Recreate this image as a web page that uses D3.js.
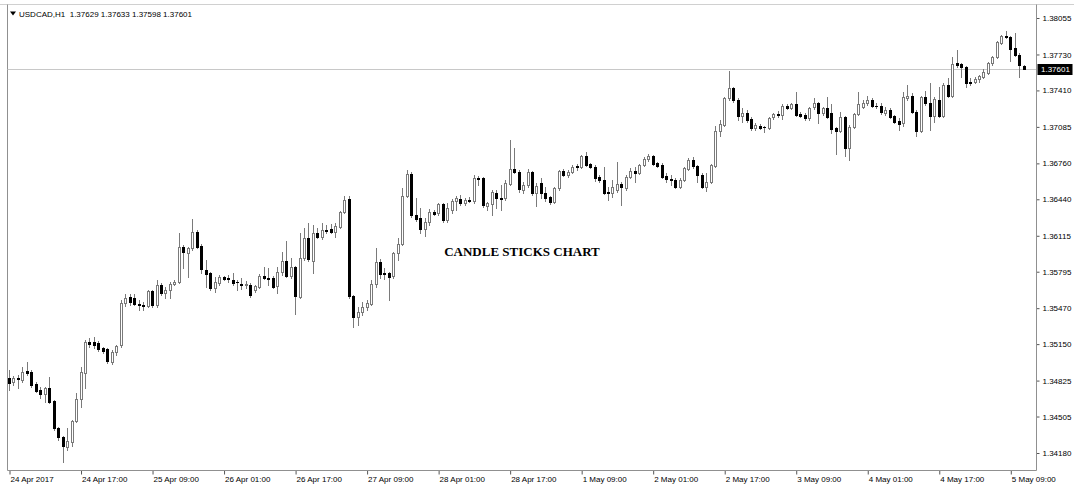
<!DOCTYPE html>
<html><head><meta charset="utf-8">
<script src="https://cdn.jsdelivr.net/npm/d3@7"></script>
<style>
html,body{margin:0;padding:0;background:#fff;}
svg{display:block;font-family:"Liberation Sans",Arial,sans-serif;}
</style>
</head><body>
<svg id="chart" width="1074" height="488"></svg>
<script>
const symbol = "USDCAD,H1";
const chartTitle = "CANDLE STICKS CHART";

const opens = [
1.34847,1.34811,1.34847,1.34829,1.34909,1.34900,1.34793,1.34740,1.34704,1.34758,
1.34642,1.34402,1.34322,1.34233,1.34277,1.34464,1.34660,1.34891,1.35168,1.35168,
1.35159,1.35115,1.35106,1.34989,1.35079,1.35141,1.35515,1.35569,1.35560,1.35507,
1.35498,1.35489,1.35622,1.35498,1.35675,1.35604,1.35631,1.35684,1.35702,1.36015,
1.35961,1.36006,1.36148,1.36024,1.35809,1.35782,1.35649,1.35693,1.35747,1.35738,
1.35720,1.35702,1.35684,1.35680,1.35675,1.35631,1.35658,1.35756,1.35738,1.35738,
1.35667,1.35791,1.35889,1.35756,1.35836,1.35569,1.35916,1.36095,1.35889,1.36139,
1.36104,1.36166,1.36175,1.36148,1.36193,1.36326,1.36442,1.35578,1.35391,1.35435,
1.35480,1.35507,1.35684,1.35880,1.35782,1.35782,1.35756,1.35961,1.36041,1.36468,
1.36665,1.36300,1.36273,1.36175,1.36237,1.36326,1.36317,1.36397,1.36255,1.36344,
1.36424,1.36442,1.36406,1.36433,1.36424,1.36629,1.36629,1.36380,1.36397,1.36495,
1.36451,1.36451,1.36575,1.36709,1.36683,1.36522,1.36567,1.36683,1.36495,1.36584,
1.36495,1.36460,1.36415,1.36540,1.36691,1.36656,1.36683,1.36736,1.36727,1.36825,
1.36754,1.36727,1.36638,1.36611,1.36504,1.36495,1.36522,1.36575,1.36540,1.36638,
1.36691,1.36674,1.36745,1.36798,1.36825,1.36763,1.36745,1.36647,1.36620,1.36611,
1.36549,1.36611,1.36709,1.36789,1.36736,1.36656,1.36549,1.36593,1.36736,1.37048,
1.37102,1.37342,1.37431,1.37324,1.37182,1.37208,1.37155,1.37075,1.37093,1.37084,
1.37075,1.37173,1.37199,1.37190,1.37271,1.37253,1.37289,1.37199,1.37190,1.37164,
1.37262,1.37298,1.37208,1.37253,1.37208,1.37075,1.37048,1.37173,1.36897,1.37084,
1.37199,1.37262,1.37298,1.37324,1.37271,1.37271,1.37208,1.37235,1.37182,1.37137,
1.37119,1.37342,1.37360,1.37217,1.37048,1.37351,1.37298,1.37182,1.37324,1.37182,
1.37458,1.37360,1.37654,1.37645,1.37618,1.37484,1.37484,1.37511,1.37529,1.37564,
1.37654,1.37707,1.37832,1.37894,1.37885,1.37788,1.37725,1.37629];

const highs = [
1.34918,1.34865,1.34873,1.34945,1.34989,1.34918,1.34811,1.34767,1.34767,1.34856,
1.34651,1.34411,1.34331,1.34402,1.34473,1.34713,1.34945,1.35186,1.35204,1.35213,
1.35177,1.35124,1.35115,1.35097,1.35141,1.35542,1.35595,1.35595,1.35595,1.35542,
1.35524,1.35631,1.35631,1.35720,1.35693,1.35658,1.35702,1.35720,1.36139,1.36032,
1.36015,1.36264,1.36166,1.36041,1.35898,1.35791,1.35747,1.35764,1.35756,1.35764,
1.35782,1.35720,1.35738,1.35711,1.35693,1.35675,1.35773,1.35836,1.35827,1.35756,
1.35836,1.35970,1.36068,1.35916,1.35845,1.36139,1.36184,1.36228,1.36210,1.36184,
1.36228,1.36210,1.36219,1.36228,1.36335,1.36468,1.36468,1.35587,1.35480,1.35524,
1.35542,1.35720,1.36006,1.35907,1.35827,1.35791,1.35970,1.36095,1.36540,1.36700,
1.36683,1.36451,1.36362,1.36273,1.36353,1.36344,1.36406,1.36406,1.36406,1.36442,
1.36468,1.36477,1.36451,1.36460,1.36656,1.36647,1.36638,1.36415,1.36522,1.36522,
1.36567,1.36611,1.36968,1.36897,1.36700,1.36593,1.36709,1.36691,1.36584,1.36629,
1.36549,1.36468,1.36549,1.36700,1.36709,1.36700,1.36745,1.36754,1.36834,1.36861,
1.36763,1.36745,1.36656,1.36727,1.36549,1.36611,1.36772,1.36593,1.36656,1.36718,
1.36727,1.36754,1.36816,1.36843,1.36834,1.36772,1.36763,1.36674,1.36656,1.36629,
1.36629,1.36727,1.36807,1.36816,1.36745,1.36674,1.36674,1.36754,1.37093,1.37146,
1.37351,1.37582,1.37440,1.37342,1.37253,1.37235,1.37173,1.37119,1.37110,1.37093,
1.37173,1.37208,1.37226,1.37289,1.37289,1.37298,1.37395,1.37217,1.37208,1.37262,
1.37342,1.37306,1.37262,1.37351,1.37289,1.37084,1.37217,1.37182,1.37102,1.37208,
1.37395,1.37324,1.37360,1.37342,1.37298,1.37298,1.37262,1.37253,1.37190,1.37164,
1.37395,1.37458,1.37386,1.37235,1.37360,1.37404,1.37475,1.37351,1.37440,1.37475,
1.37520,1.37707,1.37770,1.37654,1.37627,1.37520,1.37529,1.37547,1.37600,1.37662,
1.37716,1.37850,1.37903,1.37939,1.37894,1.37921,1.37743,1.37633];

const lows = [
1.34740,1.34784,1.34758,1.34811,1.34873,1.34767,1.34722,1.34669,1.34633,1.34624,
1.34384,1.34295,1.34098,1.34206,1.34242,1.34455,1.34589,1.34758,1.35124,1.35115,
1.35088,1.35070,1.34980,1.34971,1.35052,1.35124,1.35489,1.35498,1.35498,1.35453,
1.35453,1.35480,1.35480,1.35480,1.35587,1.35560,1.35560,1.35675,1.35693,1.35827,
1.35747,1.35988,1.36006,1.35782,1.35658,1.35631,1.35613,1.35675,1.35720,1.35702,
1.35675,1.35631,1.35640,1.35649,1.35569,1.35613,1.35649,1.35729,1.35675,1.35649,
1.35604,1.35764,1.35747,1.35738,1.35417,1.35560,1.35898,1.35889,1.35782,1.36095,
1.36086,1.36139,1.36139,1.36104,1.36184,1.36317,1.35560,1.35302,1.35320,1.35409,
1.35453,1.35498,1.35658,1.35738,1.35729,1.35542,1.35738,1.35898,1.36032,1.36460,
1.36282,1.36246,1.36139,1.36113,1.36210,1.36300,1.36300,1.36237,1.36237,1.36317,
1.36344,1.36388,1.36388,1.36415,1.36406,1.36567,1.36371,1.36344,1.36300,1.36362,
1.36344,1.36433,1.36567,1.36674,1.36504,1.36495,1.36549,1.36477,1.36380,1.36451,
1.36424,1.36397,1.36406,1.36522,1.36647,1.36638,1.36674,1.36700,1.36718,1.36736,
1.36718,1.36602,1.36593,1.36486,1.36433,1.36460,1.36504,1.36388,1.36522,1.36629,
1.36593,1.36665,1.36736,1.36780,1.36745,1.36727,1.36629,1.36593,1.36567,1.36540,
1.36540,1.36602,1.36700,1.36718,1.36593,1.36540,1.36513,1.36584,1.36727,1.37004,
1.37093,1.37324,1.37306,1.37146,1.37128,1.37128,1.37057,1.37057,1.37066,1.37039,
1.37066,1.37155,1.37173,1.37155,1.37244,1.37244,1.37182,1.37173,1.37146,1.37146,
1.37244,1.37119,1.37190,1.37164,1.37030,1.36843,1.37039,1.36825,1.36789,1.37075,
1.37190,1.37253,1.37280,1.37262,1.37253,1.37199,1.37190,1.37164,1.37119,1.37057,
1.37093,1.37324,1.37208,1.37004,1.37039,1.37280,1.37057,1.37128,1.37173,1.37173,
1.37351,1.37351,1.37618,1.37529,1.37440,1.37458,1.37475,1.37484,1.37520,1.37556,
1.37636,1.37698,1.37823,1.37876,1.37672,1.37716,1.37529,1.37598];

const closes = [
1.34802,1.34847,1.34843,1.34900,1.34891,1.34784,1.34731,1.34704,1.34758,1.34633,
1.34402,1.34322,1.34242,1.34286,1.34464,1.34660,1.34900,1.35168,1.35150,1.35141,
1.35106,1.35088,1.34998,1.35079,1.35133,1.35515,1.35560,1.35524,1.35507,1.35502,
1.35493,1.35622,1.35498,1.35675,1.35604,1.35631,1.35684,1.35702,1.36015,1.35970,
1.36006,1.36148,1.36015,1.35818,1.35773,1.35649,1.35702,1.35747,1.35729,1.35729,
1.35693,1.35700,1.35680,1.35684,1.35587,1.35667,1.35756,1.35738,1.35734,1.35658,
1.35791,1.35889,1.35756,1.35836,1.35578,1.35916,1.36095,1.35907,1.36139,1.36104,
1.36166,1.36162,1.36148,1.36202,1.36326,1.36433,1.35578,1.35391,1.35435,1.35480,
1.35515,1.35684,1.35880,1.35773,1.35773,1.35747,1.35961,1.36041,1.36468,1.36665,
1.36300,1.36264,1.36175,1.36237,1.36326,1.36308,1.36397,1.36255,1.36362,1.36424,
1.36451,1.36406,1.36433,1.36429,1.36629,1.36625,1.36388,1.36406,1.36504,1.36451,
1.36447,1.36584,1.36709,1.36683,1.36531,1.36567,1.36683,1.36495,1.36558,1.36495,
1.36451,1.36415,1.36540,1.36691,1.36656,1.36683,1.36727,1.36732,1.36825,1.36745,
1.36727,1.36629,1.36611,1.36495,1.36500,1.36549,1.36575,1.36549,1.36638,1.36691,
1.36674,1.36745,1.36798,1.36825,1.36754,1.36736,1.36638,1.36620,1.36616,1.36549,
1.36611,1.36718,1.36789,1.36736,1.36656,1.36549,1.36593,1.36745,1.37048,1.37110,
1.37342,1.37431,1.37324,1.37182,1.37208,1.37146,1.37075,1.37102,1.37075,1.37080,
1.37164,1.37199,1.37195,1.37271,1.37253,1.37289,1.37190,1.37182,1.37164,1.37253,
1.37298,1.37208,1.37253,1.37173,1.37066,1.37048,1.37173,1.36897,1.37084,1.37199,
1.37289,1.37298,1.37324,1.37271,1.37267,1.37217,1.37235,1.37173,1.37128,1.37110,
1.37351,1.37360,1.37217,1.37048,1.37351,1.37298,1.37182,1.37333,1.37182,1.37458,
1.37360,1.37645,1.37636,1.37618,1.37475,1.37480,1.37511,1.37538,1.37573,1.37654,
1.37707,1.37841,1.37894,1.37885,1.37779,1.37725,1.37636,1.37601];

// bar index of each time label (one label every 16 hourly bars)
const timeLabelBars = [0,16,32,48,64,80,96,112,128,144,160,176,192,208,224];
const timeLabels = ["24 Apr 2017","24 Apr 17:00","25 Apr 09:00","26 Apr 01:00","26 Apr 17:00",
  "27 Apr 09:00","28 Apr 01:00","28 Apr 17:00","1 May 09:00","2 May 01:00","2 May 17:00",
  "3 May 09:00","4 May 01:00","4 May 17:00","5 May 09:00"];
const priceTicks = [1.38055,1.37730,1.37410,1.37085,1.36760,1.36440,1.36115,1.35795,
  1.35470,1.35150,1.34825,1.34505,1.34180];

const n = opens.length;
const lastIdx = n - 1;
const svg = d3.select("#chart");
const frame = {left: 7.5, right: 1036.5, top: 4.5, bottom: 470.5};
const sans = '"Liberation Sans",Arial,sans-serif';

const x = d3.scaleLinear().domain([0, lastIdx]).range([9.5, 1024.2]);
const y = d3.scaleLinear().domain([1.34180, 1.38055]).range([453, 18]);
const fmt = d3.format(".5f");

// frame
svg.append("line").attr("x1", 0).attr("x2", 1074).attr("y1", frame.top).attr("y2", frame.top)
  .attr("stroke", "#d0d0d0");
svg.append("line").attr("x1", frame.left).attr("x2", frame.left).attr("y1", frame.top).attr("y2", frame.bottom)
  .attr("stroke", "#909090");

// current price line
const lastY = Math.round(y(closes[lastIdx])) + 0.5;
svg.append("line").attr("x1", frame.left).attr("x2", frame.right).attr("y1", lastY).attr("y2", lastY)
  .attr("stroke", "#c8c8c8");

// candles
const bars = svg.append("g");
d3.range(n).forEach(i => {
  const o = opens[i], h = highs[i], l = lows[i], c = closes[i];
  const cx = Math.floor(x(i)) + 0.5;
  const bull = c >= o;
  bars.append("line").attr("x1", cx).attr("x2", cx)
    .attr("y1", Math.round(y(h))).attr("y2", Math.round(y(l)) + 1)
    .attr("stroke", "#7a7a7a");
  const top = Math.round(y(Math.max(o, c)));
  const bot = Math.round(y(Math.min(o, c)));
  if (bot - top >= 1) {
    bars.append("rect").attr("x", cx - 1).attr("y", top + 0.5)
      .attr("width", 2).attr("height", bot - top)
      .attr("fill", bull ? "#ffffff" : "#000000")
      .attr("stroke", bull ? "#7a7a7a" : "#000000");
  } else {
    bars.append("line").attr("x1", cx - 1.5).attr("x2", cx + 1.5)
      .attr("y1", top + 0.5).attr("y2", top + 0.5)
      .attr("stroke", bull ? "#7a7a7a" : "#000000");
  }
});

// right price axis
const yAxis = d3.axisRight(y).tickValues(priceTicks).tickFormat(fmt).tickSize(3).tickPadding(3).offset(0.5);
const gy = svg.append("g").attr("transform", `translate(${frame.right},0)`).call(yAxis);
gy.select(".domain").remove();
gy.selectAll(".tick line").attr("stroke", "#555");
gy.selectAll(".tick text").style("font-family", sans).style("font-size", "8px").attr("fill", "#000");
svg.append("line").attr("x1", frame.right).attr("x2", frame.right).attr("y1", frame.top).attr("y2", frame.bottom)
  .attr("stroke", "#909090");

// bottom time axis
const xAxis = d3.axisBottom(x).tickValues(timeLabelBars)
  .tickFormat((d, i) => timeLabels[i]).tickSize(4).offset(0);
const gx = svg.append("g").attr("transform", `translate(0,${frame.bottom})`).call(xAxis);
gx.select(".domain").remove();
gx.selectAll(".tick line").attr("stroke", "#555").attr("transform", "translate(0.5,0)");
gx.selectAll(".tick text").attr("text-anchor", "start").attr("x", 1).attr("y", 6)
  .style("font-family", sans).style("font-size", "8px").attr("fill", "#000");
svg.append("line").attr("x1", frame.left).attr("x2", frame.right).attr("y1", frame.bottom).attr("y2", frame.bottom)
  .attr("stroke", "#909090");

// current price box
const boxH = 11;
svg.append("rect").attr("x", frame.right + 1).attr("y", lastY - boxH / 2)
  .attr("width", 35).attr("height", boxH).attr("fill", "#000");
svg.append("text").attr("x", frame.right + 4.5).attr("y", lastY).attr("dy", "0.34em")
  .style("font-family", sans).style("font-size", "8px").attr("fill", "#fff").text(fmt(closes[lastIdx]));

// header
svg.append("path").attr("d", "M10,11.5 L16,11.5 L13,15.5 Z").attr("fill", "#000");
svg.append("text").attr("x", 19).attr("y", 17).style("font-family", sans).style("font-size", "8px")
  .style("white-space", "pre").attr("fill", "#000")
  .text(symbol + "  " + [opens[lastIdx], highs[lastIdx], lows[lastIdx], closes[lastIdx]].map(fmt).join(" "));

// title
svg.append("text").attr("x", 522).attr("y", 256).attr("text-anchor", "middle")
  .style("font-family", '"Liberation Serif","Times New Roman",serif').style("font-weight", "bold")
  .style("font-size", "13px").attr("fill", "#000").text(chartTitle);
</script>
</body></html>
